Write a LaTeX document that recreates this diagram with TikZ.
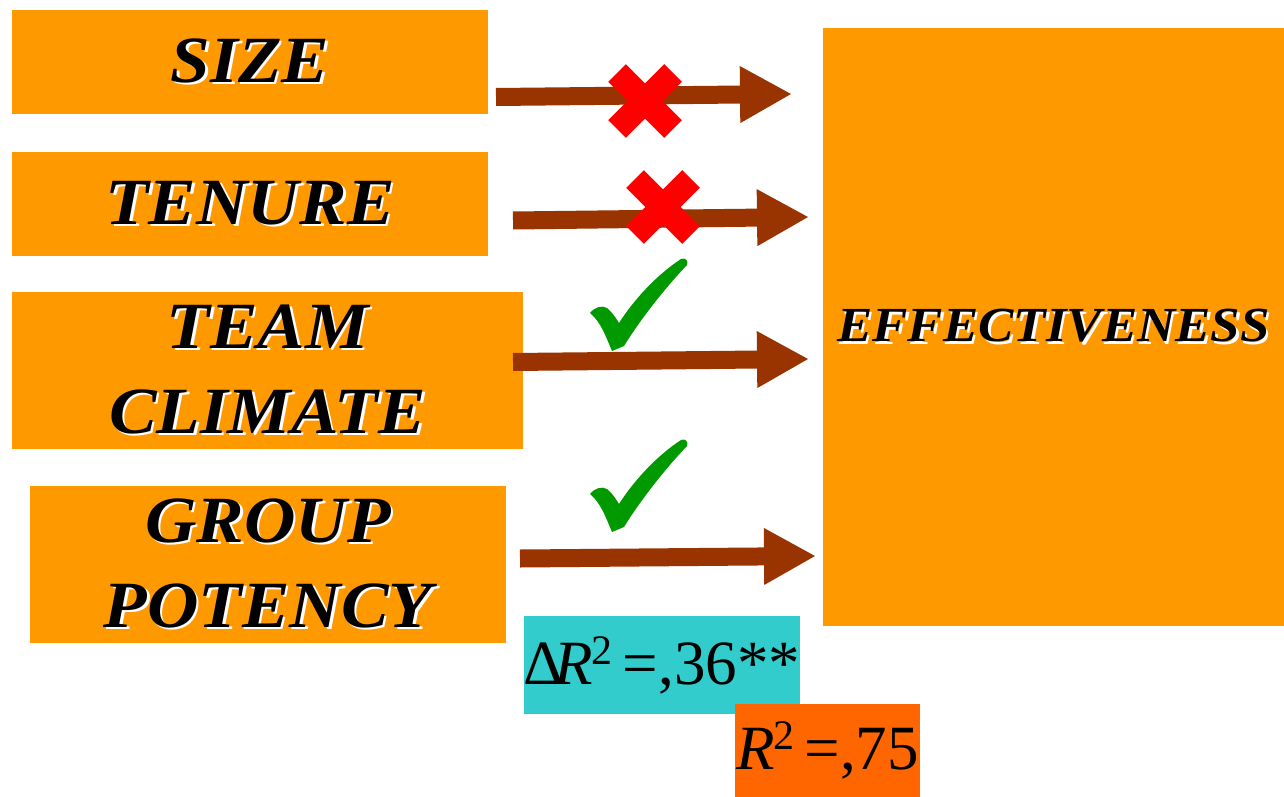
\documentclass[tikz,border=0pt]{standalone}
\usepackage{fontspec}
\setmainfont{Liberation Serif}
\newfontfamily\labelfont[FakeStretch=1.08]{Liberation Serif}
\usetikzlibrary{arrows.meta}

\definecolor{boxorange}{HTML}{FF9900}
\definecolor{arrowbrown}{HTML}{993300}
\definecolor{crossred}{HTML}{FF0000}
\definecolor{checkgreen}{HTML}{009900}
\definecolor{deltacyan}{HTML}{33CCCC}
\definecolor{rsqorange}{HTML}{FF6600}

% white drop shadow under the bold labels
\newcommand\shadowed[1]{\makebox[0pt][l]{\kern1.3pt\raisebox{-1.3pt}{\textcolor{white}{#1}}}#1}
% small raised square
\newcommand\sqr{\kern-0.5pt\raisebox{10pt}{\fontsize{21}{21}\selectfont 2}\kern5pt}

\tikzset{
    varbox/.style={fill=boxorange, inner sep=0pt, align=center,
        font=\labelfont\fontsize{33}{42.5}\selectfont\bfseries\itshape},
    effect/.style={arrowbrown, line width=9pt,
        -{Triangle[length=26pt,width=26.5pt]}},
    statbox/.style={inner sep=0pt, font=\fontsize{31.5}{40}\selectfont}
}

\begin{document}
\begin{tikzpicture}[x=0.5pt, y=-0.5pt]
    \useasboundingbox (0,0) rectangle (1284,797);

    % predictors
    \node[varbox, minimum width=238pt, minimum height=52pt] (size) at (250,62) {\shadowed{SIZE}};
    \node[varbox, minimum width=238pt, minimum height=52pt] (tenure) at (250,204) {\shadowed{TENURE}};
    \node[varbox, minimum width=255.5pt, minimum height=78.5pt] (climate) at (267.5,370.5) {\shadowed{TEAM}\\\shadowed{CLIMATE}};
    \node[varbox, minimum width=238pt, minimum height=78.5pt] (potency) at (268,564.5) {\shadowed{GROUP}\\\shadowed{POTENCY}};

    % outcome
    \node[varbox, minimum width=230.5pt, minimum height=299pt,
        font=\labelfont\fontsize{24.5}{30}\selectfont\bfseries\itshape] (eff) at (1053.5,327) {\shadowed{EFFECTIVENESS}};

    % arrow ends
    \coordinate (s1) at (496,97);   \coordinate (e1) at (792,94);
    \coordinate (s2) at (513,220.5); \coordinate (e2) at (809,217);
    \coordinate (s3) at (513,362);  \coordinate (e3) at (809,359);
    \coordinate (s4) at (520,558.5); \coordinate (e4) at (816,556);
    \foreach \i in {1,...,4}
        \draw[effect] (s\i) -- (e\i);

    % not significant
    \foreach \cx/\cy in {645/101, 663/207}
        \draw[crossred, line width=12.5pt] (\cx-28,\cy-28) -- (\cx+28,\cy+28)
            (\cx-28,\cy+28) -- (\cx+28,\cy-28);

    % significant
    \foreach \dy in {0,181}
        \fill[checkgreen, shift={(589,258+\dy)}] (1,55) .. controls (6,49) and (13,47) .. (18,50)
            .. controls (23,54) and (27,60) .. (30,65)
            .. controls (46,40) and (69,16) .. (92,1)
            .. controls (96,-1) and (100,3) .. (98,7)
            .. controls (76,30) and (51,62) .. (35,88) -- (23,93)
            .. controls (17,79) and (12,64) .. (1,55) -- cycle;

    % explained variance
    \node[statbox, fill=deltacyan, minimum width=138pt, minimum height=49pt] (dr) at (662,665)
        {Δ\kern-5pt\textit{R}\sqr=,36**};
    \node[statbox, fill=rsqorange, minimum width=92.5pt, minimum height=46.5pt] (rr) at (827.5,750.5)
        {\textit{R}\sqr=,75};
\end{tikzpicture}
\end{document}
